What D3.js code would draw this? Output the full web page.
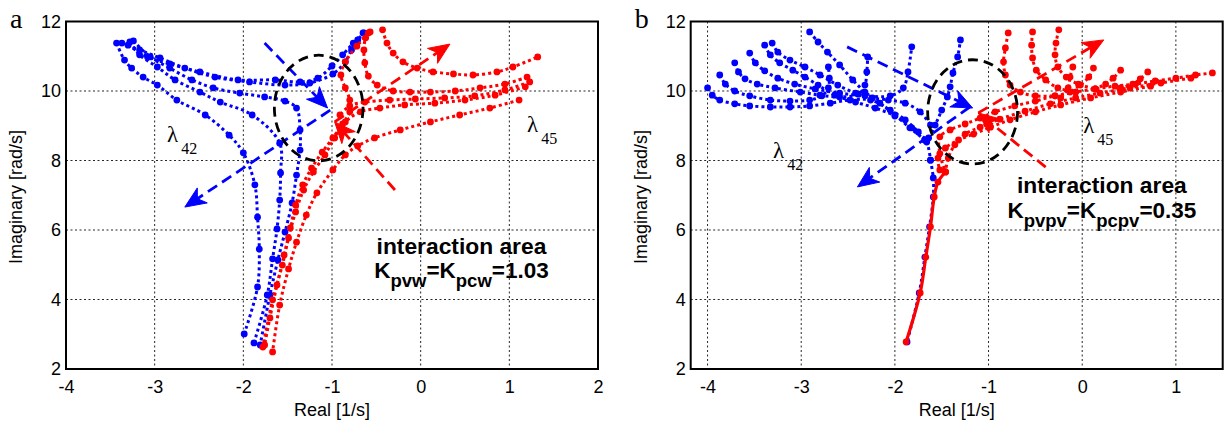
<!DOCTYPE html>
<html>
<head>
<meta charset="utf-8">
<script src="https://cdn.jsdelivr.net/npm/d3@7"></script>
<style>
  html, body { margin: 0; padding: 0; background: #fff; }
  svg { display: block; }
</style>
</head>
<body>
<svg id="chart" width="1224" height="423"></svg>
<script>
// ---- axis ticks and domains ----
const xTicksA = [-4, -3, -2, -1, 0, 1, 2];
const xTicksB = [-4, -3, -2, -1, 0, 1];
const yTicks = [2, 4, 6, 8, 10, 12];
const xDomainA = [-4, 2];
const xDomainB = [-4.18, 1.5];
const yDomain = [2, 12];

// ---- panel a: eigenvalue loci of λ42 (blue) ----
const a_blue1 = [[-3.43,11.38],[-3.34,10.89],[-3.26,10.66],[-3.13,10.40],[-2.97,10.17],[-2.75,9.74],[-2.43,9.31],[-2.16,8.73],[-2.00,8.22],[-1.87,7.30],[-1.84,6.37],[-1.82,5.45],[-1.84,4.36],[-1.99,3.01]];
const a_blue2 = [[-3.28,11.41],[-3.17,11.04],[-2.97,10.69],[-2.77,10.32],[-2.49,9.97],[-2.26,9.68],[-1.90,9.31],[-1.59,8.50],[-1.58,7.64],[-1.59,6.86],[-1.62,6.03],[-1.67,5.17],[-1.73,4.13],[-1.88,2.75]];
const a_blue3 = [[-3.24,11.44],[-3.05,10.98],[-2.83,10.66],[-2.58,10.32],[-2.34,10.09],[-2.04,9.94],[-1.76,9.83],[-1.53,9.71],[-1.40,9.51],[-1.36,8.88],[-1.36,8.30],[-1.40,7.58],[-1.45,6.78],[-1.53,5.94],[-1.61,5.14],[-1.70,4.13],[-1.81,2.69]];
const a_blue4 = [[-3.30,11.32],[-3.08,10.98],[-2.83,10.78],[-2.49,10.55],[-2.06,10.32],[-1.64,10.32],[-1.36,10.26],[-1.16,10.37],[-1.00,10.72],[-0.88,11.04],[-0.76,11.38],[-0.65,11.67]];
const a_blue5 = [[-3.37,11.38],[-3.17,11.18],[-2.94,10.95],[-2.66,10.66],[-2.32,10.40],[-1.93,10.26],[-1.53,10.17],[-1.25,10.23],[-0.99,10.49],[-0.85,10.84],[-0.78,11.18],[-0.71,11.47],[-0.64,11.67]];

// ---- panel a: eigenvalue loci of λ45 (red) ----
const a_red1 = [[-0.43,11.76],[-0.38,11.38],[-0.31,11.09],[-0.20,10.84],[-0.04,10.66],[0.14,10.55],[0.37,10.49],[0.59,10.46],[0.86,10.55],[1.04,10.69],[1.32,10.98]];
const a_red2 = [[1.20,10.40],[0.95,10.20],[0.67,10.09],[0.39,10.00],[0.11,9.97],[-0.12,9.97],[-0.31,10.00],[-0.49,10.17],[-0.59,10.43],[-0.63,10.81],[-0.64,11.18],[-0.62,11.53],[-0.57,11.70]];
const a_red3 = [[1.18,10.12],[0.84,9.88],[0.50,9.74],[0.16,9.65],[-0.18,9.60],[-0.46,9.51],[-0.68,9.40],[-0.85,9.11],[-0.97,8.65],[-1.08,8.16],[-1.21,7.67],[-1.32,7.15],[-1.41,6.52],[-1.49,5.77],[-1.56,4.99],[-1.67,3.99],[-1.78,2.63]];
const a_red4 = [[1.11,9.74],[0.78,9.51],[0.44,9.31],[0.11,9.11],[-0.23,8.88],[-0.52,8.65],[-0.71,8.42],[-0.85,8.16],[-0.99,7.73],[-1.17,7.07],[-1.29,6.43],[-1.40,5.65],[-1.49,4.88],[-1.59,3.84],[-1.67,2.49]];
const a_red5 = [[-0.59,11.67],[-0.72,11.29],[-0.85,10.84],[-0.90,10.46],[-0.85,10.09],[-0.80,9.74],[-0.80,9.40],[-0.88,9.05],[-0.99,8.65],[-1.11,8.24],[-1.23,7.78],[-1.33,7.30],[-1.41,6.72],[-1.47,6.06],[-1.54,5.28],[-1.62,4.42],[-1.70,3.47],[-1.76,2.69]];
const a_red6 = [[1.23,10.26],[0.95,10.03],[0.61,9.86],[0.27,9.80],[-0.06,9.77],[-0.35,9.74],[-0.63,9.68],[-0.80,9.57],[-0.91,9.31]];

// ---- panel b: eigenvalue loci of λ42 (blue) ----
const b_blue1 = [[-4.00,10.09],[-3.95,9.88],[-3.87,9.74],[-3.71,9.63],[-3.55,9.57],[-3.33,9.54],[-3.12,9.54],[-2.91,9.57],[-2.69,9.65],[-2.48,9.74],[-2.26,9.74],[-2.05,9.45],[-1.89,9.17],[-1.75,8.82],[-1.66,8.53],[-1.62,8.01]];
const b_blue2 = [[-3.87,10.46],[-3.81,10.20],[-3.71,10.00],[-3.55,9.86],[-3.33,9.74],[-3.12,9.71],[-2.91,9.74],[-2.78,9.86],[-2.71,10.09],[-2.70,10.37],[-2.71,10.69]];
const b_blue3 = [[-3.71,10.81],[-3.67,10.55],[-3.60,10.35],[-3.47,10.20],[-3.28,10.09],[-3.01,9.97],[-2.80,9.88],[-2.59,9.83],[-2.39,9.91],[-2.32,10.17],[-2.30,10.55],[-2.29,10.98]];
const b_blue4 = [[-3.55,11.09],[-3.49,10.81],[-3.39,10.58],[-3.25,10.37],[-3.07,10.20],[-2.85,10.06],[-2.59,9.94],[-2.32,9.86],[-2.05,9.86],[-1.91,10.09],[-1.86,10.55],[-1.82,11.27]];
const b_blue5 = [[-3.39,11.32],[-3.33,11.04],[-3.23,10.81],[-3.09,10.60],[-2.96,10.40],[-2.82,10.17],[-2.64,9.88],[-2.42,9.68],[-2.21,9.51],[-2.00,9.28],[-1.82,8.94],[-1.68,8.59]];
const b_blue6 = [[-3.31,11.38],[-3.25,11.12],[-3.12,10.89],[-2.96,10.69],[-2.80,10.46],[-2.61,10.17],[-2.42,9.94],[-2.24,9.80],[-2.07,9.74],[-1.89,9.65],[-1.73,9.40],[-1.62,9.02]];
const b_blue7 = [[-2.91,11.70],[-2.82,11.41],[-2.72,11.12],[-2.59,10.75],[-2.45,10.32],[-2.32,9.97],[-2.16,9.65],[-2.00,9.31],[-1.84,8.94],[-1.68,8.59]];
const b_blue8 = [[-1.64,8.65],[-1.57,9.02],[-1.50,9.45],[-1.44,9.83],[-1.41,10.12],[-1.38,10.52],[-1.33,10.98],[-1.30,11.47]];
const b_blue9 = [[-1.62,8.01],[-1.59,7.50],[-1.59,6.95],[-1.63,6.09],[-1.68,5.22],[-1.74,4.19],[-1.87,2.78]];

// ---- panel b: eigenvalue loci of λ45 (red) ----
const b_red1 = [[1.39,10.52],[1.21,10.46],[1.00,10.37],[0.78,10.29],[0.57,10.20],[0.35,10.14],[0.14,10.06],[-0.07,9.97],[-0.29,9.86],[-0.50,9.71],[-0.72,9.57],[-0.93,9.40],[-1.09,9.22],[-1.25,9.05],[-1.41,8.88],[-1.52,8.68],[-1.52,8.20],[-1.46,7.67]];
const b_red2 = [[1.16,10.37],[0.84,10.23],[0.51,10.09],[0.19,9.94],[-0.07,9.80],[-0.34,9.63],[-0.61,9.42],[-0.88,9.19],[-1.09,8.96],[-1.25,8.76],[-1.36,8.45],[-1.43,8.07],[-1.46,7.67]];
const b_red3 = [[0.73,10.14],[0.41,9.97],[0.09,9.80],[-0.23,9.60],[-0.50,9.40],[-0.77,9.17],[-0.98,8.96],[-1.16,8.76],[-1.32,8.59],[-1.46,8.36],[-1.54,8.07],[-1.52,7.73]];
const b_red4 = [[-0.79,11.67],[-0.82,11.24],[-0.84,10.84],[-0.82,10.46],[-0.77,10.17],[-0.66,9.97],[-0.50,9.86],[-0.29,9.86]];
const b_red5 = [[-0.53,11.70],[-0.54,11.32],[-0.53,10.95],[-0.49,10.60],[-0.39,10.32],[-0.26,10.09],[-0.07,9.97]];
const b_red6 = [[-0.25,11.76],[-0.28,11.38],[-0.29,11.04],[-0.26,10.69],[-0.17,10.40],[-0.04,10.20],[0.14,10.06]];
const b_red7 = [[-0.10,10.69],[-0.13,10.40],[-0.15,10.09],[-0.23,9.80]];
const b_red8 = [[0.12,10.66],[0.07,10.40],[-0.02,10.17],[-0.13,9.97]];
const b_red9 = [[0.41,10.60],[0.33,10.37],[0.25,10.20],[0.14,10.06]];
const b_red10 = [[0.70,10.55],[0.62,10.35],[0.54,10.20],[0.41,10.09]];
const b_red11 = [[-1.46,7.67],[-1.54,7.38],[-1.58,6.95],[-1.62,6.09],[-1.67,5.22],[-1.73,4.19],[-1.88,2.78]];

// ---- direction arrows [from, to] and the interaction ellipse ----
const a_arrowBlue1 = [[-1.76,11.38],[-1.05,9.51]];
const a_arrowBlue2 = [[-1.02,9.45],[-2.66,6.66]];
const a_arrowRed1 = [[-0.29,7.15],[-0.97,9.11]];
const a_arrowRed2 = [[-0.97,9.11],[0.33,11.35]];
const a_ellipse = [[-1.15,9.51],[0.50,1.52]];

const b_arrowBlue1 = [[-2.51,11.27],[-1.17,9.51]];
const b_arrowBlue2 = [[-1.20,9.54],[-2.40,7.24]];
const b_arrowRed1 = [[-0.39,7.81],[-1.11,9.37]];
const b_arrowRed2 = [[-1.11,9.37],[0.23,11.47]];
const b_ellipse = [[-1.17,9.40],[0.48,1.50]];

// ---- text ----
const panelLetters = ["a", "b"];
const gainTexts = [
  { k1: "pvw", k2: "pcw", value: "1.03" },
  { k1: "pvpv", k2: "pcpv", value: "0.35" }
];

const BLUE = "#0000ff", RED = "#ff0000";
const plotTop = 21.5, plotBottom = 369;
const SANS = "Liberation Sans, Arial, sans-serif";
const SERIF = "Liberation Serif, Times New Roman, serif";
const svg = d3.select("#chart");

const panels = [
  {
    id: "a", letter: panelLetters[0], left: 66, right: 598,
    xDomain: xDomainA, xTicks: xTicksA,
    blue: [a_blue1, a_blue2, a_blue3, a_blue4, a_blue5],
    red: [a_red1, a_red2, a_red3, a_red4, a_red5, a_red6],
    redSolid: [],
    arrows: [[a_arrowBlue1, BLUE], [a_arrowBlue2, BLUE], [a_arrowRed1, RED], [a_arrowRed2, RED]],
    ellipse: a_ellipse,
    lam42: [-2.86, 8.53], lam45: [1.20, 8.82],
    textX: 0.46, textY1: 5.31, textY2: 4.63,
    gain: gainTexts[0]
  },
  {
    id: "b", letter: panelLetters[1], left: 690.7, right: 1222.7,
    xDomain: xDomainB, xTicks: xTicksB,
    blue: [b_blue1, b_blue2, b_blue3, b_blue4, b_blue5, b_blue6, b_blue7, b_blue8, b_blue9],
    red: [b_red1, b_red2, b_red3, b_red4, b_red5, b_red6, b_red7, b_red8, b_red9, b_red10],
    redSolid: [b_red11],
    arrows: [[b_arrowBlue1, BLUE], [b_arrowBlue2, BLUE], [b_arrowRed1, RED], [b_arrowRed2, RED]],
    ellipse: b_ellipse,
    lam42: [-3.30, 8.07], lam45: [0.01, 8.79],
    textX: 0.21, textY1: 7.06, textY2: 6.34,
    gain: gainTexts[1]
  }
];

function drawPanel(p) {
  const x = d3.scaleLinear().domain(p.xDomain).range([p.left, p.right]);
  const y = d3.scaleLinear().domain(yDomain).range([plotBottom, plotTop]);
  const g = svg.append("g").attr("class", "panel-" + p.id);

  const clipId = "clip-" + p.id;
  svg.append("defs").append("clipPath").attr("id", clipId)
    .append("rect").attr("x", p.left).attr("y", plotTop)
    .attr("width", p.right - p.left).attr("height", plotBottom - plotTop);

  // dotted grid
  const grid = g.append("g").attr("stroke", "#000").attr("stroke-width", 1)
    .attr("stroke-dasharray", "2,2.5").attr("opacity", 0.85);
  p.xTicks.forEach(t => grid.append("line")
    .attr("x1", x(t)).attr("x2", x(t)).attr("y1", plotTop).attr("y2", plotBottom));
  yTicks.forEach(t => grid.append("line")
    .attr("x1", p.left).attr("x2", p.right).attr("y1", y(t)).attr("y2", y(t)));

  // axes
  const xAxis = d3.axisBottom(x).tickValues(p.xTicks).tickSize(0).tickPadding(11)
    .tickFormat(d => String(d));
  const yAxis = d3.axisLeft(y).tickValues(yTicks).tickSize(0).tickPadding(5)
    .tickFormat(d => String(d));
  g.append("g").attr("transform", `translate(0,${plotBottom})`).call(xAxis)
    .call(s => s.select(".domain").remove())
    .selectAll("text").attr("font-family", SANS).attr("font-size", 18).attr("fill", "#000");
  g.append("g").attr("transform", `translate(${p.left},0)`).call(yAxis)
    .call(s => s.select(".domain").remove())
    .selectAll("text").attr("font-family", SANS).attr("font-size", 18).attr("fill", "#000");

  // axis titles
  g.append("text").attr("x", (p.left + p.right) / 2).attr("y", 416)
    .attr("text-anchor", "middle").attr("font-family", SANS)
    .attr("font-size", 18).text("Real [1/s]");
  g.append("text").attr("transform", `translate(${p.left - 44},197) rotate(-90)`)
    .attr("text-anchor", "middle").attr("font-family", SANS)
    .attr("font-size", 18).text("Imaginary [rad/s]");

  // panel letter
  g.append("text").attr("x", p.left - 56).attr("y", 28)
    .attr("font-family", SERIF).attr("font-size", 28).text(p.letter);

  const plot = g.append("g").attr("clip-path", `url(#${clipId})`);
  const line = d3.line().x(d => x(d[0])).y(d => y(d[1]))
    .curve(d3.curveCatmullRom.alpha(0.5));

  function locus(data, color, solid) {
    plot.append("path").datum(data).attr("d", line).attr("fill", "none")
      .attr("stroke", color).attr("stroke-width", solid ? 3.2 : 3)
      .attr("stroke-dasharray", solid ? null : "3,3");
    plot.append("g").selectAll("circle").data(data).join("circle")
      .attr("cx", d => x(d[0])).attr("cy", d => y(d[1])).attr("r", 3.4)
      .attr("fill", color);
  }
  p.blue.forEach(d => locus(d, BLUE, false));
  p.red.forEach(d => locus(d, RED, false));
  p.redSolid.forEach(d => locus(d, RED, true));

  // dashed direction arrows
  function arrow(pts, color) {
    const a = [x(pts[0][0]), y(pts[0][1])], b = [x(pts[1][0]), y(pts[1][1])];
    const dx = b[0] - a[0], dy = b[1] - a[1], len = Math.hypot(dx, dy);
    const ux = dx / len, uy = dy / len, nx = -uy, ny = ux;
    const L = 21, W = 9;
    const bx = b[0] - ux * L, by = b[1] - uy * L;
    plot.append("line").attr("x1", a[0]).attr("y1", a[1])
      .attr("x2", b[0] - ux * L * 0.6).attr("y2", b[1] - uy * L * 0.6)
      .attr("stroke", color).attr("stroke-width", 2.8).attr("stroke-dasharray", "11,6");
    plot.append("path")
      .attr("d", `M${b[0]},${b[1]}L${bx + nx * W},${by + ny * W}` +
        `L${b[0] - ux * L * 0.72},${b[1] - uy * L * 0.72}L${bx - nx * W},${by - ny * W}Z`)
      .attr("fill", color).attr("stroke", color).attr("stroke-width", 1);
  }
  p.arrows.forEach(([pts, c]) => arrow(pts, c));

  // interaction ellipse
  const [c, r] = p.ellipse;
  plot.append("ellipse").attr("cx", x(c[0])).attr("cy", y(c[1]))
    .attr("rx", x(c[0] + r[0]) - x(c[0])).attr("ry", y(c[1]) - y(c[1] + r[1]))
    .attr("fill", "none").attr("stroke", "#000").attr("stroke-width", 2.8)
    .attr("stroke-dasharray", "10,6");

  // eigenvalue labels
  function lam(pos, sub) {
    const t = g.append("text").attr("x", x(pos[0])).attr("y", y(pos[1]))
      .attr("font-family", SERIF).attr("font-size", 23);
    t.append("tspan").text("λ");
    t.append("tspan").attr("dx", 3).attr("dy", 12).attr("font-size", 16).text(sub);
  }
  lam(p.lam42, "42");
  lam(p.lam45, "45");

  // interaction area annotation
  g.append("text").attr("x", x(p.textX)).attr("y", y(p.textY1))
    .attr("text-anchor", "middle").attr("font-family", SANS).attr("font-weight", "bold")
    .attr("font-size", 22.8).text("interaction area");
  const k = g.append("text").attr("x", x(p.textX)).attr("y", y(p.textY2))
    .attr("text-anchor", "middle").attr("font-family", SANS).attr("font-weight", "bold")
    .attr("font-size", 22.5);
  k.append("tspan").text("K");
  k.append("tspan").attr("dy", 9).attr("font-size", 18.5).text(p.gain.k1);
  k.append("tspan").attr("dy", -9).text("=K");
  k.append("tspan").attr("dy", 9).attr("font-size", 18.5).text(p.gain.k2);
  k.append("tspan").attr("dy", -9).text("=" + p.gain.value);

  // axes box
  g.append("rect").attr("x", p.left).attr("y", plotTop)
    .attr("width", p.right - p.left).attr("height", plotBottom - plotTop)
    .attr("fill", "none").attr("stroke", "#000").attr("stroke-width", 2);
}

panels.forEach(drawPanel);
</script>
</body>
</html>
